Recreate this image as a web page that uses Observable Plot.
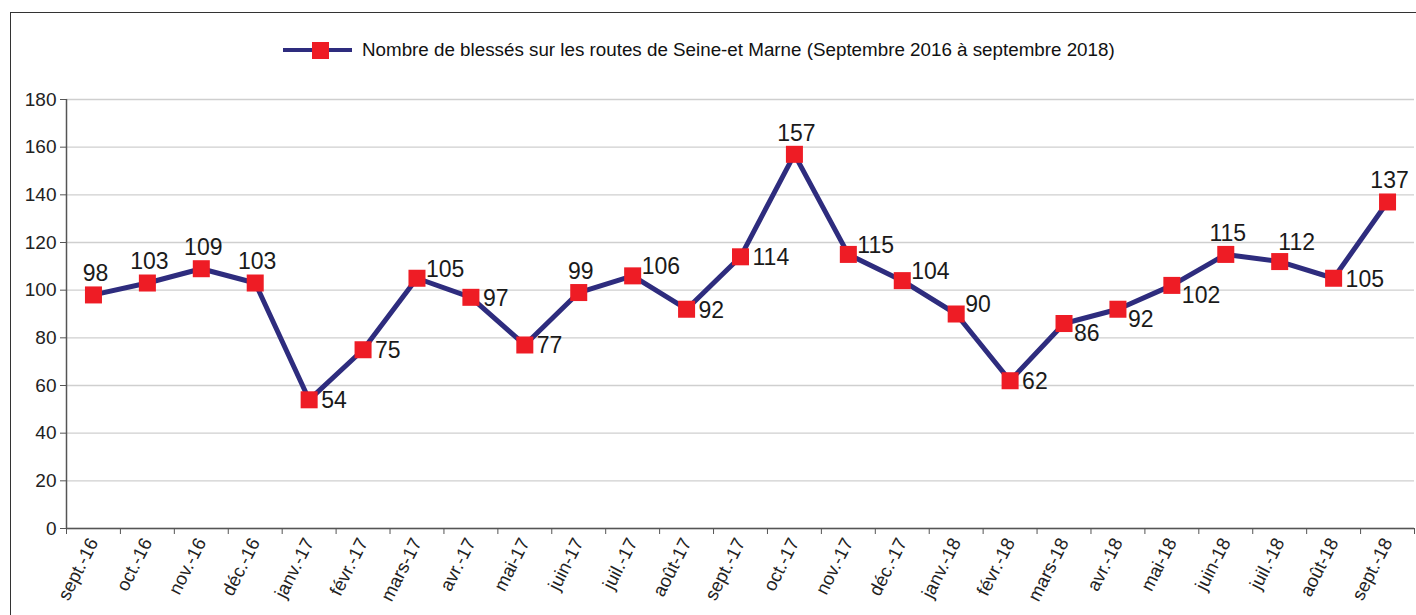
<!DOCTYPE html>
<html><head><meta charset="utf-8">
<script src="https://cdn.jsdelivr.net/npm/d3@7"></script>
<script src="https://cdn.jsdelivr.net/npm/@observablehq/plot@0.6"></script>
<style>
html,body{margin:0;padding:0;background:#fff;}
body{width:1416px;height:615px;overflow:hidden;position:relative;font-family:"Liberation Sans",Arial,sans-serif;}
#frame{position:absolute;left:10px;top:12px;width:1430px;height:640px;border:1.5px solid #333;box-sizing:border-box;}
#chart{position:absolute;left:0;top:0;}
#legend{position:absolute;left:283px;top:38px;height:24px;display:flex;align-items:center;font-size:18.8px;color:#111;white-space:nowrap;}
#legend .sym{position:relative;width:69px;height:24px;margin-right:10px;display:inline-block;}
#legend .ln{position:absolute;left:0;top:10px;width:69px;height:4px;background:#2e2c7e;}
#legend .sq{position:absolute;left:29px;top:4px;width:17px;height:17px;background:#ee1c25;}
</style></head><body>
<div id="frame"></div>
<div id="chart"></div>
<div id="legend"><span class="sym"><span class="ln"></span><span class="sq"></span></span><span id="legendText"></span></div>
<script>
const months = ["sept.-16","oct.-16","nov.-16","déc.-16","janv.-17","févr.-17","mars-17","avr.-17","mai-17","juin-17","juil.-17","août-17","sept.-17","oct.-17","nov.-17","déc.-17","janv.-18","févr.-18","mars-18","avr.-18","mai-18","juin-18","juil.-18","août-18","sept.-18"];
const values = [98,103,109,103,54,75,105,97,77,99,106,92,114,157,115,104,90,62,86,92,102,115,112,105,137];
const labelSide = ["above","above","above","above","right","right","upRight","right","right","above","upRight","right","right","above","upRight","upRight","upRight","right","downRight","downRight","downRight","above","aboveRight","right","above"];
const yTicks = [0,20,40,60,80,100,120,140,160,180];
const legendLabel = "Nombre de blessés sur les routes de Seine-et Marne (Septembre 2016 à septembre 2018)";

document.getElementById("legendText").textContent = legendLabel;

const data = months.map((m, i) => ({i, m, v: values[i], side: labelSide[i]}));
const cx = d => d.i + 0.5;

const sideStyle = {
  above: {textAnchor: "middle", dx: 2, dy: -21},
  right: {textAnchor: "start", dx: 12, dy: 1},
  upRight: {textAnchor: "start", dx: 9, dy: -9},
  downRight: {textAnchor: "start", dx: 10, dy: 10},
  aboveRight: {textAnchor: "middle", dx: 17, dy: -19}
};
const labelMarks = Object.entries(sideStyle).map(([side, s]) =>
  Plot.text(data.filter(d => d.side === side), {
    x: cx, y: "v", text: d => String(d.v),
    fontSize: 23, fill: "#1a1a1a", ...s
  })
);

const centers = months.map((m, i) => i + 0.5);
const edges = d3.range(0, months.length + 1);

const chart = Plot.plot({
  width: 1416, height: 615,
  marginLeft: 66, marginRight: 2, marginTop: 99, marginBottom: 87,
  x: {type: "linear", domain: [0, months.length]},
  y: {domain: [0, 180]},
  style: {fontFamily: "'Liberation Sans', Arial, sans-serif", background: "transparent", color: "#222", overflow: "visible"},
  marks: [
    Plot.gridY(yTicks, {stroke: "#cfcfcf", strokeOpacity: 1, strokeWidth: 1.3}),
    Plot.axisY({ticks: yTicks, tickSize: 6, tickPadding: 4, fontSize: 19, label: null, stroke: "#555"}),
    Plot.axisX({ticks: edges, tickSize: 6, tickFormat: () => "", label: null, stroke: "#555"}),
    Plot.axisX({ticks: centers, tickSize: 0, tickPadding: 11, tickRotate: -63, fontSize: 18.5, label: null, tickFormat: d => months[Math.floor(d)]}),
    Plot.ruleX([0], {stroke: "#555", strokeWidth: 1.5}),
    Plot.ruleY([0], {stroke: "#555", strokeWidth: 1.5}),
    Plot.line(data, {x: cx, y: "v", stroke: "#2e2c7e", strokeWidth: 5}),
    Plot.dot(data, {x: cx, y: "v", symbol: "square", r: 9.6, fill: "#ee1c25", stroke: null}),
    ...labelMarks
  ]
});
document.getElementById("chart").appendChild(chart);
</script>
</body></html>
